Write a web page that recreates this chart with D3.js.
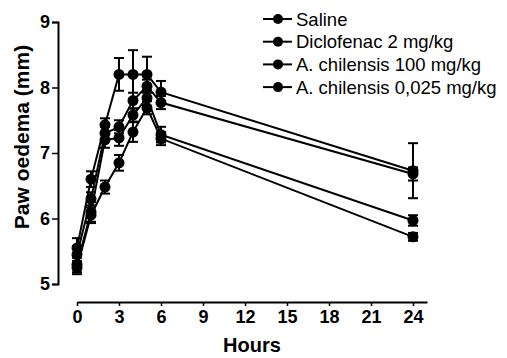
<!DOCTYPE html>
<html>
<head>
<meta charset="utf-8">
<script src="https://cdn.jsdelivr.net/npm/d3@7"></script>
<style>
    body { margin: 0; background: #fff; }
    svg { display: block; font-family: "Liberation Sans", Arial, sans-serif; }
</style>
</head>
<body>
<svg width="507" height="358"></svg>
<script>
var hours = [0, 1, 2, 3, 4, 5, 6, 24];
var seriesNames = ["Saline", "Diclofenac 2 mg/kg", "A. chilensis 100 mg/kg", "A. chilensis 0,025 mg/kg"];
var saline = [5.55, 6.6, 7.43, 8.2, 8.2, 8.2, 7.93, 6.73];
var salineSem = [0.15, 0.12, 0.1, 0.25, 0.37, 0.27, 0.17, 0.42];
var diclofenac = [5.45, 6.3, 7.3, 7.4, 7.8, 8.02, 7.77, 6.68];
var diclofenacSem = [0.12, 0.1, 0.1, 0.1, 0.12, 0.1, 0.1, 0.1];
var chilensis100 = [5.3, 6.1, 7.2, 7.23, 7.58, 7.84, 7.28, 5.97];
var chilensis100Sem = [0.12, 0.15, 0.12, 0.12, 0.1, 0.12, 0.12, 0.08];
var chilensis025 = [5.25, 6.05, 6.48, 6.85, 7.32, 7.69, 7.22, 5.72];
var chilensis025Sem = [0.1, 0.12, 0.1, 0.12, 0.15, 0.1, 0.1, 0.06];
var xTicks = [0, 3, 6, 9, 12, 15, 18, 21, 24];
var yTicks = [5, 6, 7, 8, 9];

var allValues = [saline, diclofenac, chilensis100, chilensis025];
var allSem = [salineSem, diclofenacSem, chilensis100Sem, chilensis025Sem];

var svg = d3.select("svg");

var x = d3.scaleLinear().domain([0, 24]).range([77, 413]);
var y = d3.scaleLinear().domain([5, 9]).range([284, 22]);

// y axis
var yAxis = svg.append("g")
    .attr("transform", "translate(58,0)")
    .call(d3.axisLeft(y).tickValues(yTicks).tickFormat(d3.format("d")).tickSize(6).tickPadding(2));
yAxis.select(".domain").attr("stroke-width", 2);
yAxis.selectAll(".tick line").attr("stroke-width", 1.5);
yAxis.selectAll("text")
    .attr("font-size", 18)
    .attr("font-weight", "bold")
    .attr("fill", "#000");

// x axis, offset below the plot
var xAxis = svg.append("g")
    .attr("transform", "translate(0,302)")
    .call(d3.axisBottom(x.copy().domain([0, 25]).range([77, 427])).tickValues(xTicks).tickSize(4).tickSizeOuter(0).tickPadding(4));
xAxis.select(".domain").attr("stroke-width", 2);
xAxis.selectAll(".tick line").attr("stroke-width", 1.5);
xAxis.selectAll("text")
    .attr("font-size", 18)
    .attr("font-weight", "bold")
    .attr("fill", "#000");

svg.append("text")
    .attr("transform", "translate(29,137) rotate(-90)")
    .attr("text-anchor", "middle")
    .attr("font-size", 21)
    .attr("font-weight", "bold")
    .text("Paw oedema (mm)");

svg.append("text")
    .attr("x", 252)
    .attr("y", 352)
    .attr("text-anchor", "middle")
    .attr("font-size", 20)
    .attr("font-weight", "bold")
    .text("Hours");

var line = d3.line()
    .x(function (d, i) { return x(hours[i]); })
    .y(function (d) { return y(d); });

var groups = svg.append("g")
    .selectAll("g")
    .data(allValues)
    .enter()
    .append("g");

groups.append("path")
    .attr("d", function (d) { return line(d); })
    .attr("fill", "none")
    .attr("stroke", "#000")
    .attr("stroke-width", 2);

groups.each(function (vals, k) {
    var g = d3.select(this);
    var sem = allSem[k];
    var bars = g.selectAll(".err")
        .data(vals)
        .enter()
        .append("g")
        .attr("class", "err");
    bars.append("line")
        .attr("x1", function (d, i) { return x(hours[i]); })
        .attr("x2", function (d, i) { return x(hours[i]); })
        .attr("y1", function (d, i) { return y(d - sem[i]); })
        .attr("y2", function (d, i) { return y(d + sem[i]); })
        .attr("stroke", "#000")
        .attr("stroke-width", 2);
    bars.append("line")
        .attr("x1", function (d, i) { return x(hours[i]) - 5; })
        .attr("x2", function (d, i) { return x(hours[i]) + 5; })
        .attr("y1", function (d, i) { return y(d + sem[i]); })
        .attr("y2", function (d, i) { return y(d + sem[i]); })
        .attr("stroke", "#000")
        .attr("stroke-width", 2);
    bars.append("line")
        .attr("x1", function (d, i) { return x(hours[i]) - 5; })
        .attr("x2", function (d, i) { return x(hours[i]) + 5; })
        .attr("y1", function (d, i) { return y(d - sem[i]); })
        .attr("y2", function (d, i) { return y(d - sem[i]); })
        .attr("stroke", "#000")
        .attr("stroke-width", 2);
    g.selectAll("circle")
        .data(vals)
        .enter()
        .append("circle")
        .attr("cx", function (d, i) { return x(hours[i]); })
        .attr("cy", function (d) { return y(d); })
        .attr("r", 5.5)
        .attr("fill", "#000");
});

// legend
var legend = svg.append("g")
    .selectAll("g")
    .data(seriesNames)
    .enter()
    .append("g")
    .attr("transform", function (d, i) { return "translate(263," + (19 + i * 22.7) + ")"; });

legend.append("line")
    .attr("x1", 0)
    .attr("x2", 29)
    .attr("stroke", "#000")
    .attr("stroke-width", 2);

legend.append("circle")
    .attr("cx", 15)
    .attr("r", 5)
    .attr("fill", "#000");

legend.append("text")
    .attr("x", 33)
    .attr("dy", "0.36em")
    .attr("font-size", 18.5)
    .attr("fill", "#000")
    .text(function (d) { return d; });
</script>
</body>
</html>
